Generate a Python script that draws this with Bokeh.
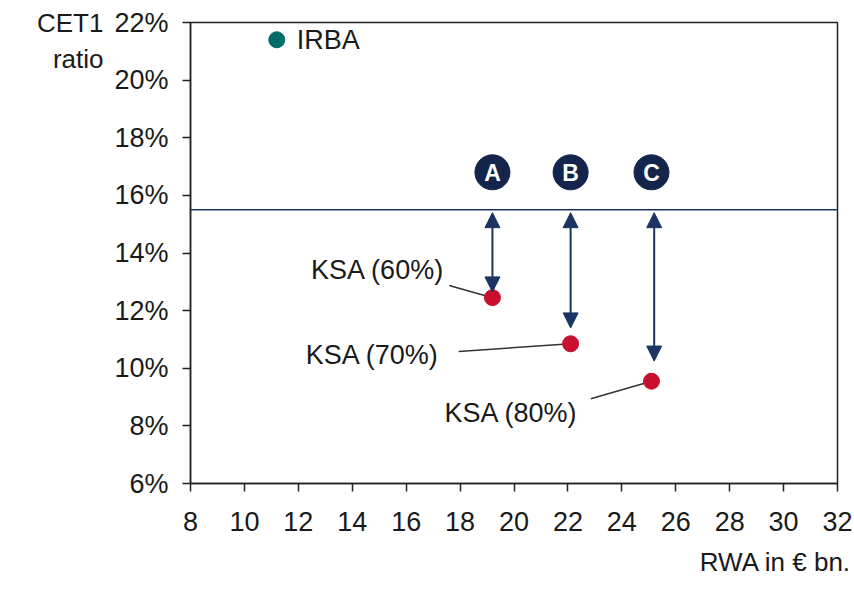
from bokeh.plotting import figure
from bokeh.models import Range1d, Label, Span, Arrow, NormalHead, ColumnDataSource, FixedTicker, Title
from bokeh.embed import file_html
from bokeh.resources import INLINE
from bokeh.core.properties import value

# ---- data ----
irba_x = [11.2]
irba_y = [21.4]
ksa_x = [19.2, 22.1, 25.1]
ksa_y = [12.45, 10.85, 9.55]
ksa_labels = ["KSA (60%)", "KSA (70%)", "KSA (80%)"]
threshold = 15.5
arrow_x = [19.2, 22.1, 25.2]
arrow_bottom = [12.65, 11.4, 10.25]
arrow_top = [15.4, 15.4, 15.4]
marker_labels = ["A", "B", "C"]
marker_x = [19.2, 22.1, 25.1]
marker_y = [16.8, 16.8, 16.8]
label_x = [14.95, 14.75, 19.9]
label_y = [13.4, 10.45, 8.45]
leader_x0 = [17.6, 17.95, 22.85]
leader_y0 = [12.87, 10.58, 8.94]
x_ticks = list(range(8, 33, 2))
y_ticks = list(range(6, 23, 2))
y_tick_labels = [f"{t}%" for t in y_ticks]

FONT = "Liberation Sans"
NAVY = "#1c3461"
TXT = "#1a1a1a"
FS = "27px"

p = figure(width=854, height=594, output_backend="svg", toolbar_location=None,
           x_range=Range1d(8, 32), y_range=Range1d(6, 22),
           min_border_left=190, min_border_right=17, min_border_top=22, min_border_bottom=111)
p.xgrid.visible = False
p.ygrid.visible = False
p.outline_line_color = "#222222"
p.outline_line_width = 1.5
p.background_fill_color = "white"
p.border_fill_color = "white"

for ax in (p.xaxis[0], p.yaxis[0]):
    ax.axis_line_color = "#222222"
    ax.axis_line_width = 1.5
    ax.major_tick_line_color = "#222222"
    ax.major_tick_line_width = 1.5
    ax.major_tick_out = 8
    ax.major_tick_in = 0
    ax.minor_tick_line_color = None
    ax.major_label_text_font = FONT
    ax.major_label_text_font_size = FS
    ax.major_label_text_color = TXT

p.xaxis.ticker = FixedTicker(ticks=x_ticks)
p.yaxis.ticker = FixedTicker(ticks=y_ticks)
p.yaxis.major_label_overrides = {t: l for t, l in zip(y_ticks, y_tick_labels)}
p.xaxis.major_label_standoff = 20
p.yaxis.major_label_standoff = 14

yax = p.yaxis[0]
yax.axis_label = "\u00a0\nCET1\nratio"
yax.axis_label_align = "end"
yax.axis_label_orientation = "horizontal"
yax.axis_label_standoff = 8
yax.axis_label_text_align = "center"
yax.axis_label_text_font = FONT
yax.axis_label_text_font_size = "26px"
yax.axis_label_text_font_style = "normal"
yax.axis_label_text_color = TXT

p.add_layout(Title(text="RWA in € bn.", align="right", text_font=FONT, text_font_size="26px",
                   text_font_style="normal", text_color=TXT, standoff=22, offset=-14), "below")

# threshold line
p.add_layout(Span(location=threshold, dimension="width", line_color=NAVY, line_width=1.5))

# double-headed arrows
for x, yb, yt in zip(arrow_x, arrow_bottom, arrow_top):
    p.add_layout(Arrow(x_start=x, y_start=yt, x_end=x, y_end=yb, line_color=NAVY, line_width=2,
                       start=NormalHead(size=15, fill_color=NAVY, line_color=NAVY),
                       end=NormalHead(size=15, fill_color=NAVY, line_color=NAVY)))

# leader lines
p.segment(x0=leader_x0, y0=leader_y0, x1=ksa_x, y1=ksa_y, line_color="#333333", line_width=1.5)

# points
p.scatter(irba_x, irba_y, size=16, color="#006b68")
p.scatter(ksa_x, ksa_y, size=16, color="#c8102e")

p.add_layout(Label(x=irba_x[0], y=irba_y[0], text="IRBA", x_offset=20, text_baseline="middle",
                   text_font=FONT, text_font_size=FS, text_color=TXT))

for x, y, t in zip(label_x, label_y, ksa_labels):
    p.add_layout(Label(x=x, y=y, text=t, text_align="center", text_baseline="middle",
                       text_font=FONT, text_font_size=FS, text_color=TXT))

# A/B/C markers
src = ColumnDataSource(dict(x=marker_x, y=marker_y, t=marker_labels))
p.scatter("x", "y", source=src, size=35, color="#13254a")
p.text("x", "y", text="t", source=src, text_align="center", text_baseline="middle",
       text_font=value(FONT), text_font_size="23px", text_font_style="bold", text_color="white", y_offset=1)

open("out.html", "w").write(file_html(p, INLINE))
